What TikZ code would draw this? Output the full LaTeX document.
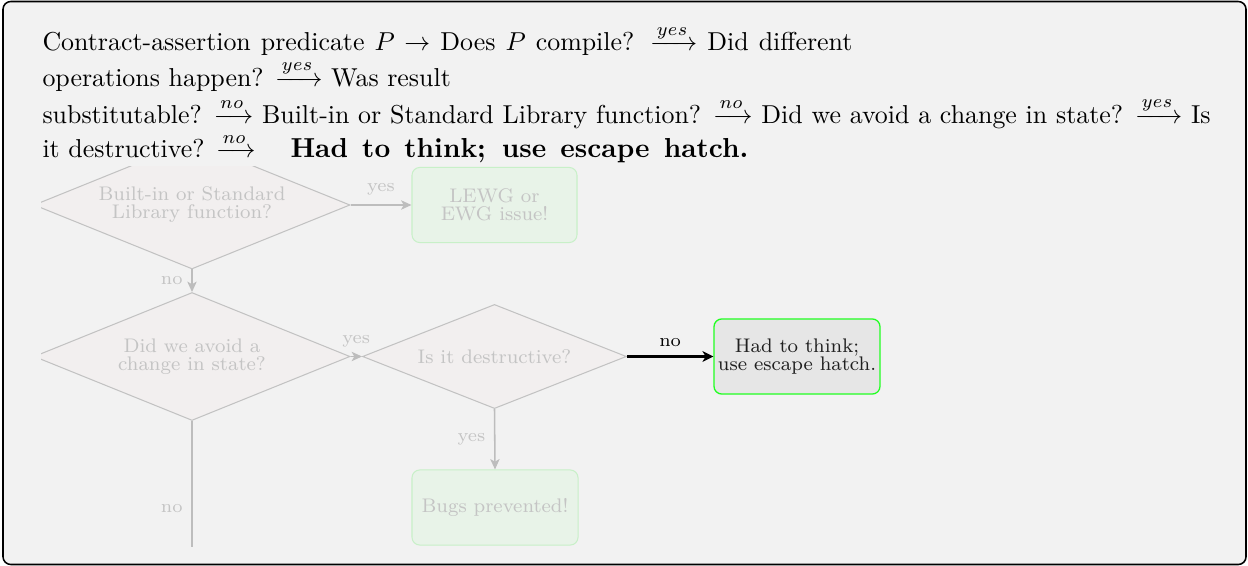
\documentclass[tikz,border=0pt]{standalone}
\usepackage{amsmath}
\usetikzlibrary{shapes.geometric,arrows.meta}
\definecolor{bg}{HTML}{F2F2F2}
\definecolor{dimtext}{HTML}{C4C4C4}
\definecolor{dimline}{HTML}{C2C2C2}
\definecolor{decfill}{HTML}{F2EFEF}
\definecolor{okfill}{HTML}{E8F3E8}
\definecolor{okline}{HTML}{C8F0C8}
\definecolor{dimarrow}{HTML}{BDBDBD}
\definecolor{hotline}{HTML}{22FF22}
\definecolor{hotfill}{HTML}{E6E6E6}
\tikzset{
  dimfont/.style={font=\fontsize{7.6}{7}\selectfont},
  decision/.style={diamond, draw=dimline, fill=decfill, aspect=2.5, inner sep=0pt,
    align=center, dimfont, text=dimtext, line width=0.4pt},
  okbox/.style={rectangle, rounded corners=3pt, draw=okline, fill=okfill, align=center,
    inner sep=0pt, dimfont, text=dimtext, line width=0.4pt},
  hotbox/.style={rectangle, rounded corners=3pt, draw=hotline, fill=hotfill, align=center,
    inner sep=0pt, dimfont, text=black!88, line width=0.5pt},
  darr/.style={draw=dimarrow, line width=0.6pt, -{Stealth[length=4pt,width=3.6pt,inset=1pt]}},
  dline/.style={draw=dimarrow, line width=0.6pt},
  harr/.style={draw=black, line width=0.8pt, -{Stealth[length=4.2pt,width=4.2pt,inset=1.2pt]}},
  lab/.style={font=\fontsize{7}{8}\selectfont, text=dimtext},
  hlab/.style={font=\fontsize{7}{8}\selectfont, text=black},
  txt/.style={anchor=base west, inner sep=0pt, font=\fontsize{10}{12}\selectfont}
}
\begin{document}
\begin{tikzpicture}[x=0.3861pt,y=-0.3861pt]
\useasboundingbox (0,0) rectangle (1248,566);
\draw[fill=bg, draw=black, line width=0.6pt, rounded corners=3pt] (3,1.5) rectangle (1246,564.5);

\node[txt] (l1) at (42,51) {\makebox[312.7pt][s]{Contract-assertion predicate $P \to$ Does $P$ compile? $\xrightarrow{yes}$ Did different}};
\node[txt] (l2) at (42,86.7) {operations happen? $\xrightarrow{yes}$ Was result};
\node[txt] (l3) at (42,123.3) {\makebox[451pt][s]{substitutable? $\xrightarrow{no}$ Built-in or Standard Library function? $\xrightarrow{no}$ Did we avoid a change in state? $\xrightarrow{yes}$ Is}};
\node[txt] (l4) at (42,157.7) {it destructive? $\xrightarrow{no}$};
\node[txt, font=\fontsize{10.6}{12}\selectfont] (l4b) at (290,157.7) {\makebox[176.8pt][s]{\bfseries Had to think; use escape hatch.}};

\begin{scope}
\clip (41,167) rectangle (1240,546);
\node[decision, minimum width=122pt, minimum height=49.4pt] (d1) at (192,205) {Built-in or Standard\\Library function?};
\node[okbox, minimum width=63.7pt, minimum height=29pt] (lewg) at (494.5,205) {LEWG or\\EWG issue!};
\node[decision, minimum width=122pt, minimum height=49.4pt] (d2) at (192,356.5) {Did we avoid a\\change in state?};
\node[decision, minimum width=101.9pt, minimum height=40.2pt] (d3) at (494.5,356.5) {Is it destructive?};
\node[hotbox, minimum width=64.1pt, minimum height=29pt] (hatch) at (797,356.5) {Had to think;\\use escape hatch.};
\node[okbox, minimum width=64.1pt, minimum height=29pt] (bugs) at (495,507.5) {Bugs prevented!};
\coordinate (d2out) at (192,596);

\draw[darr] (d1.east) -- node[lab, above] {yes} (lewg.west);
\draw[darr] (d1.south) -- node[lab, left] {no} (d2.north);
\draw[darr] (d2.east) -- node[lab, above] {yes} (d3.west);
\draw[darr] (d3.south) -- node[lab, left] {yes} (bugs.north);
\draw[dline] (d2.south) -- node[lab, left] {no} (d2out);
\draw[harr] (d3.east) -- node[hlab, above] {no} (hatch.west);
\end{scope}
\end{tikzpicture}
\end{document}
